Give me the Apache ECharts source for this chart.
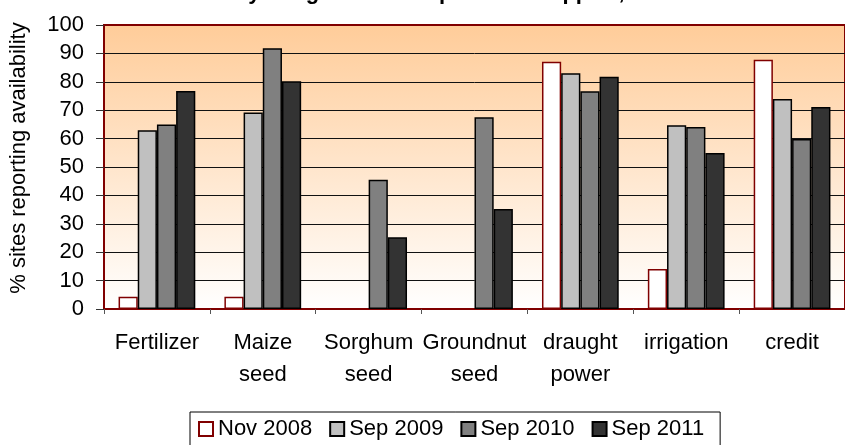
<!DOCTYPE html>
<html>
<head>
<meta charset="utf-8">
<script src="https://cdn.jsdelivr.net/npm/echarts@6/dist/echarts.min.js"></script>
<style>
  html, body { margin: 0; padding: 0; background: #fff; }
  #chart { width: 845px; height: 445px; }
</style>
</head>
<body>
<div id="chart"></div>
<script>
const titleText = 'Availability of agricultural inputs and support, 2008-2011';
const yAxisName = '% sites reporting availability';
const categories = ['Fertilizer', 'Maize\nseed', 'Sorghum\nseed', 'Groundnut\nseed', 'draught\npower', 'irrigation', 'credit'];
const seriesNames = ['Nov 2008', 'Sep 2009', 'Sep 2010', 'Sep 2011'];
const nov2008 = [4.3, 4.3, 0, 0, 87.1, 14.1, 87.8];
const sep2009 = [62.9, 69.2, 0, 0, 83.0, 64.7, 73.9];
const sep2010 = [65.0, 91.8, 45.5, 67.5, 76.7, 64.1, 59.9];
const sep2011 = [76.8, 80.2, 25.3, 35.2, 81.8, 54.9, 71.1];
const yTicks = [0, 10, 20, 30, 40, 50, 60, 70, 80, 90, 100];

const FONT = '"Liberation Sans", Arial, sans-serif';
const fills = ['#FFFFFF', '#C0C0C0', '#808080', '#333333'];
const borders = ['#800000', '#000000', '#000000', '#000000'];
const allData = [nov2008, sep2009, sep2010, sep2011];

const chart = echarts.init(document.getElementById('chart'));
chart.setOption({
  animation: false,
  textStyle: { fontFamily: FONT },
  graphic: [{
    type: 'text',
    x: 440, y: 4,
    style: {
      text: titleText,
      font: 'bold 22px ' + FONT,
      fill: '#000',
      textAlign: 'center',
      textVerticalAlign: 'bottom'
    }
  }],
  grid: {
    left: 103, top: 25, width: 753, height: 284,
    show: true,
    borderColor: '#800000',
    borderWidth: 2,
    backgroundColor: new echarts.graphic.LinearGradient(0, 0, 0, 1, [
      { offset: 0, color: '#FFCC99' },
      { offset: 1, color: '#FFFFFF' }
    ])
  },
  legend: {
    left: 190, top: 412,
    data: seriesNames,
    orient: 'horizontal',
    itemWidth: 14, itemHeight: 14,
    itemGap: 17,
    borderColor: '#000',
    borderWidth: 1,
    padding: [6, 16, 10, 8],
    textStyle: { fontSize: 22, color: '#000', fontFamily: FONT },
    icon: 'rect'
  },
  xAxis: {
    type: 'category',
    data: categories,
    axisLine: { lineStyle: { color: '#800000', width: 2 } },
    axisTick: { show: true, length: 5, lineStyle: { color: '#555' } },
    axisLabel: { fontSize: 22, color: '#000', lineHeight: 32, margin: 18, interval: 0, fontFamily: FONT }
  },
  yAxis: {
    type: 'value',
    min: yTicks[0], max: yTicks[yTicks.length - 1], interval: 10,
    name: yAxisName,
    nameLocation: 'middle',
    nameGap: 74,
    nameRotate: 90,
    nameTextStyle: { fontSize: 22, color: '#000', fontFamily: FONT, padding: [0, 0, 0, 18] },
    axisLine: { show: true, lineStyle: { color: '#800000', width: 1.5 } },
    axisTick: { show: true, length: 8, lineStyle: { color: '#333' } },
    axisLabel: { fontSize: 22, color: '#000', margin: 20, fontFamily: FONT },
    splitLine: { show: true, showMinLine: false, showMaxLine: false, lineStyle: { color: '#111', width: 1 } }
  },
  series: allData.map((arr, i) => ({
    name: seriesNames[i],
    type: 'bar',
    barGap: '0%',
    barCategoryGap: '27.5%',
    itemStyle: { color: fills[i], borderColor: borders[i], borderWidth: 1.5 },
    data: arr.map(v => v === 0 ? { value: v, itemStyle: { borderWidth: 0 } } : v)
  }))
});
</script>
</body>
</html>
